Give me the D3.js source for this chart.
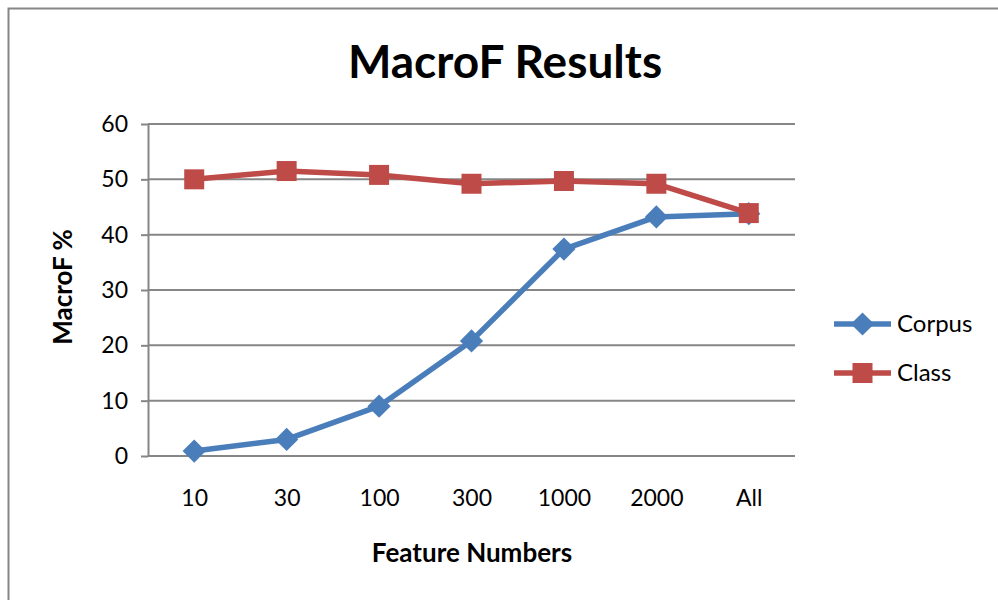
<!DOCTYPE html>
<html>
<head>
<meta charset="utf-8">
<script src="https://cdn.jsdelivr.net/npm/d3@7"></script>
<style>
  body { margin: 0; background: #fff; }
  text { font-family: Lato, "Open Sans", sans-serif; }
</style>
</head>
<body>
<svg id="chart" width="998" height="600"></svg>
<script>
const categories = ["10", "30", "100", "300", "1000", "2000", "All"];
const corpus = [0.9, 3.0, 9.0, 20.8, 37.4, 43.2, 43.8];
const classVals = [50.0, 51.5, 50.8, 49.2, 49.7, 49.2, 43.9];
const yTicks = [0, 10, 20, 30, 40, 50, 60];

const svg = d3.select("#chart");
const margin = {top: 124, left: 148, bottom: 144, right: 203};
const width = +svg.attr("width");
const height = +svg.attr("height");

// outer frame (top and left edges visible)
svg.append("path")
    .attr("d", `M8.5,${height} V8.5 H${width}`)
    .attr("fill", "none")
    .attr("stroke", "#868686")
    .attr("stroke-width", 2);

const x = d3.scalePoint()
    .domain(categories)
    .range([margin.left, width - margin.right])
    .padding(0.5);

const y = d3.scaleLinear()
    .domain([0, 60])
    .range([height - margin.bottom, margin.top]);

// gridlines
svg.append("g")
    .selectAll("line")
    .data(yTicks.slice(1))
    .join("line")
    .attr("x1", margin.left)
    .attr("x2", width - margin.right)
    .attr("y1", d => y(d))
    .attr("y2", d => y(d))
    .attr("stroke", "#868686")
    .attr("stroke-width", 2);

const yAxis = svg.append("g")
    .attr("transform", `translate(${margin.left},0)`)
    .call(d3.axisLeft(y).tickValues(yTicks).tickSize(7).tickPadding(13).tickSizeOuter(0));
yAxis.select(".domain").attr("stroke", "#868686").attr("stroke-width", 2);
yAxis.selectAll(".tick line").attr("stroke", "#868686").attr("stroke-width", 2);
yAxis.selectAll(".tick text").attr("font-size", 23).attr("fill", "#000")
    .style("font-family", "Lato, sans-serif");

const xAxis = svg.append("g")
    .attr("transform", `translate(0,${height - margin.bottom})`)
    .call(d3.axisBottom(x).tickSize(0).tickPadding(34).tickSizeOuter(0));
xAxis.select(".domain").attr("stroke", "#868686").attr("stroke-width", 2)
    .attr("d", `M${margin.left},0H${width - margin.right}`);
xAxis.selectAll(".tick text").attr("font-size", 23).attr("fill", "#000")
    .style("font-family", "Lato, sans-serif");

const series = [
    {name: "Corpus", values: corpus, color: "#4a7ebb", symbol: d3.symbolSquare, size: 270, rotate: 45},
    {name: "Class", values: classVals, color: "#be4b48", symbol: d3.symbolSquare, size: 400, rotate: 0}
];

const line = d3.line()
    .x((d, i) => x(categories[i]))
    .y(d => y(d));

series.forEach(s => {
    svg.append("path")
        .datum(s.values)
        .attr("fill", "none")
        .attr("stroke", s.color)
        .attr("stroke-width", 5.5)
        .attr("stroke-linejoin", "round")
        .attr("d", line);

    svg.append("g")
        .selectAll("path")
        .data(s.values)
        .join("path")
        .attr("transform", (d, i) => `translate(${x(categories[i])},${y(d)}) rotate(${s.rotate})`)
        .attr("d", d3.symbol().type(s.symbol).size(s.size))
        .attr("fill", s.color);
});

// title
svg.append("text")
    .attr("x", 505)
    .attr("y", 78)
    .attr("text-anchor", "middle")
    .attr("font-size", 46)
    .attr("font-weight", "bold")
    .text("MacroF Results");

svg.append("text")
    .attr("x", 472)
    .attr("y", 562)
    .attr("text-anchor", "middle")
    .attr("font-size", 26)
    .attr("font-weight", "bold")
    .text("Feature Numbers");

svg.append("text")
    .attr("transform", "translate(72,287) rotate(-90)")
    .attr("text-anchor", "middle")
    .attr("font-size", 26)
    .attr("font-weight", "bold")
    .text("MacroF %");

// legend
const legend = svg.selectAll(".legend")
    .data(series)
    .join("g")
    .attr("class", "legend")
    .attr("transform", (d, i) => `translate(834,${324 + i * 49})`);

legend.append("line")
    .attr("x1", 0).attr("x2", 57)
    .attr("stroke", d => d.color)
    .attr("stroke-width", 5.5);

legend.append("path")
    .attr("transform", d => `translate(28.5,0) rotate(${d.rotate})`)
    .attr("d", d => d3.symbol().type(d.symbol).size(d.size)())
    .attr("fill", d => d.color);

legend.append("text")
    .attr("x", 63)
    .attr("y", 8)
    .attr("font-size", 24)
    .text(d => d.name);
</script>
</body>
</html>
